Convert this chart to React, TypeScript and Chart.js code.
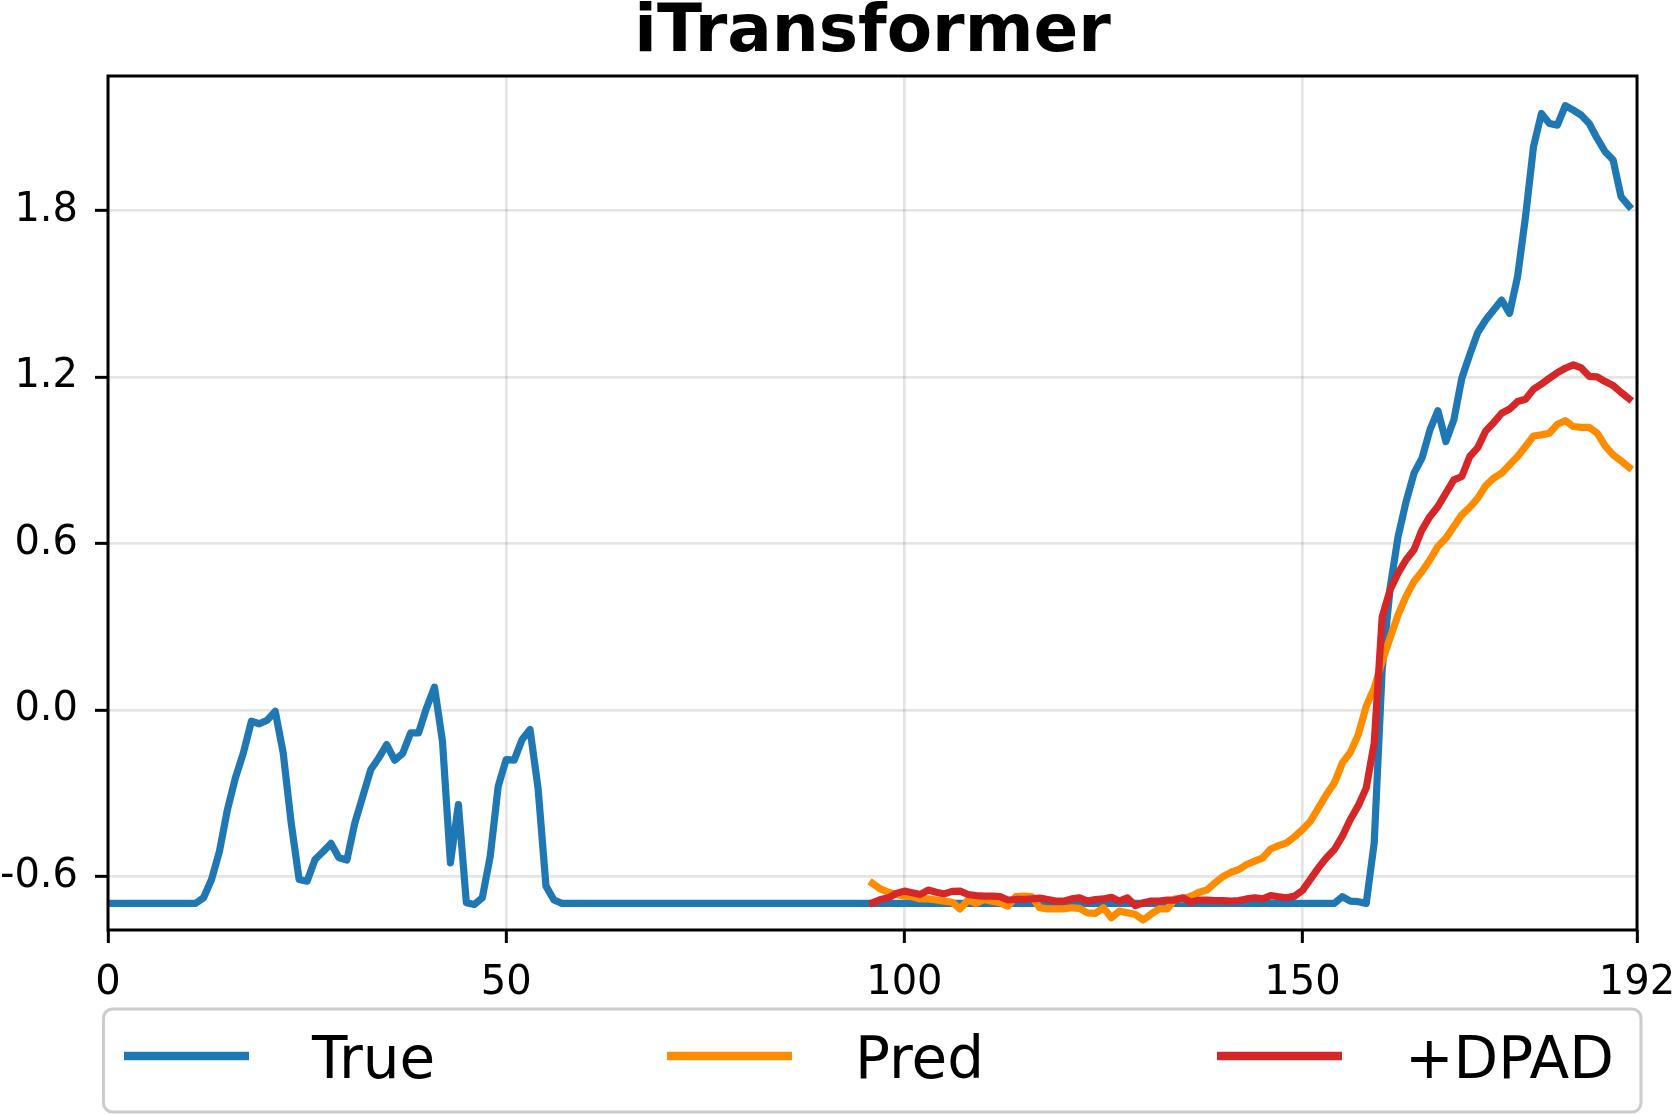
import React, { useEffect, useRef } from 'react';
import { Chart, registerables } from 'chart.js';

Chart.register(...registerables);

const chartTitle = 'iTransformer';
const seriesNames = ['True', 'Pred', '+DPAD'];
const seriesColors = ['#1f77b4', '#ff8c00', '#d62728'];
const xTickValues = [0, 50, 100, 150, 192];
const xTickLabels = ['0', '50', '100', '150', '192'];
const yTickValues = [-0.6, 0, 0.6, 1.2, 1.8];
const yTickLabels = ['-0.6', '0.0', '0.6', '1.2', '1.8'];
const xMin = 0;
const xMax = 192;
const yMin = -0.793;
const yMax = 2.284;
const predStart = 96;

const trueValues = [
  -0.697, -0.697, -0.697, -0.697, -0.697, -0.697, -0.697, -0.697, -0.697, -0.697,
  -0.697, -0.697, -0.677, -0.611, -0.509, -0.359, -0.245, -0.155, -0.041, -0.050,
  -0.037, -0.005, -0.155, -0.407, -0.611, -0.617, -0.539, -0.511, -0.481, -0.533,
  -0.541, -0.407, -0.311, -0.215, -0.173, -0.125, -0.181, -0.157, -0.083, -0.083,
  0.007, 0.082, -0.113, -0.551, -0.341, -0.695, -0.701, -0.677, -0.527, -0.275,
  -0.179, -0.181, -0.107, -0.071, -0.281, -0.635, -0.685, -0.697, -0.697, -0.697,
  -0.697, -0.697, -0.697, -0.697, -0.697, -0.697, -0.697, -0.697, -0.697, -0.697,
  -0.697, -0.697, -0.697, -0.697, -0.697, -0.697, -0.697, -0.697, -0.697, -0.697,
  -0.697, -0.697, -0.697, -0.697, -0.697, -0.697, -0.697, -0.697, -0.697, -0.697,
  -0.697, -0.697, -0.697, -0.697, -0.697, -0.697, -0.697, -0.697, -0.697, -0.697,
  -0.697, -0.697, -0.697, -0.697, -0.697, -0.697, -0.697, -0.697, -0.697, -0.697,
  -0.697, -0.697, -0.697, -0.697, -0.697, -0.697, -0.697, -0.697, -0.697, -0.697,
  -0.697, -0.697, -0.697, -0.697, -0.697, -0.697, -0.697, -0.697, -0.697, -0.697,
  -0.697, -0.697, -0.697, -0.697, -0.697, -0.697, -0.697, -0.697, -0.697, -0.697,
  -0.697, -0.697, -0.697, -0.697, -0.697, -0.697, -0.697, -0.697, -0.697, -0.697,
  -0.697, -0.697, -0.697, -0.697, -0.697, -0.673, -0.689, -0.691, -0.697, -0.479,
  0.145, 0.44, 0.625, 0.75, 0.853, 0.907, 1.009, 1.078, 0.967, 1.045,
  1.195, 1.28, 1.36, 1.405, 1.441, 1.477, 1.429, 1.561, 1.777, 2.029,
  2.149, 2.113, 2.107, 2.177, 2.161, 2.143, 2.113, 2.059, 2.011, 1.981,
  1.849, 1.815,
];

const predValues = [
  -0.625, -0.645, -0.657, -0.665, -0.671, -0.673, -0.681, -0.681, -0.685, -0.689,
  -0.693, -0.717, -0.685, -0.697, -0.683, -0.689, -0.695, -0.707, -0.673, -0.671,
  -0.673, -0.713, -0.717, -0.717, -0.717, -0.713, -0.715, -0.731, -0.733, -0.713,
  -0.749, -0.725, -0.731, -0.737, -0.757, -0.735, -0.717, -0.717, -0.681, -0.681,
  -0.671, -0.657, -0.649, -0.623, -0.601, -0.585, -0.575, -0.557, -0.545, -0.533,
  -0.501, -0.489, -0.479, -0.457, -0.431, -0.401, -0.353, -0.305, -0.263, -0.191,
  -0.153, -0.089, 0.013, 0.079, 0.175, 0.26, 0.343, 0.409, 0.463, 0.499,
  0.541, 0.589, 0.619, 0.661, 0.703, 0.73, 0.763, 0.808, 0.835, 0.853,
  0.883, 0.913, 0.949, 0.987, 0.991, 0.997, 1.029, 1.042, 1.021, 1.018,
  1.018, 0.997, 0.951, 0.919, 0.897, 0.874,
];

const dpadValues = [
  -0.695, -0.683, -0.677, -0.661, -0.653, -0.659, -0.665, -0.649, -0.657, -0.663,
  -0.654, -0.653, -0.665, -0.669, -0.671, -0.671, -0.673, -0.685, -0.683, -0.683,
  -0.681, -0.678, -0.683, -0.689, -0.689, -0.681, -0.677, -0.689, -0.683, -0.681,
  -0.675, -0.689, -0.677, -0.705, -0.695, -0.689, -0.689, -0.685, -0.685, -0.677,
  -0.693, -0.685, -0.685, -0.687, -0.687, -0.689, -0.687, -0.681, -0.677, -0.681,
  -0.669, -0.673, -0.677, -0.671, -0.650, -0.610, -0.569, -0.533, -0.503, -0.455,
  -0.395, -0.345, -0.281, -0.12, 0.335, 0.433, 0.493, 0.541, 0.577, 0.649,
  0.697, 0.733, 0.781, 0.829, 0.841, 0.913, 0.945, 1.005, 1.035, 1.069,
  1.084, 1.111, 1.119, 1.155, 1.174, 1.195, 1.215, 1.231, 1.243, 1.232,
  1.202, 1.200, 1.183, 1.169, 1.144, 1.121,
];

const FONT = '"DejaVu Sans", "Noto Sans", sans-serif';

export default function App() {
  const ref = useRef<HTMLCanvasElement>(null);

  useEffect(() => {
    const canvas = ref.current;
    if (!canvas) return;

    const spinesPlugin = {
      id: 'spines',
      afterDatasetsDraw(chart: any) {
        const { ctx, chartArea: a } = chart;
        ctx.save();
        ctx.strokeStyle = '#000';
        ctx.lineWidth = 3;
        ctx.strokeRect(a.left, a.top, a.right - a.left, a.bottom - a.top);
        ctx.restore();
      },
    };

    const decorPlugin = {
      id: 'decor',
      afterDraw(chart: any) {
        const { ctx, chartArea: a } = chart;
        ctx.save();
        // title
        ctx.fillStyle = '#000';
        ctx.font = `bold 66px ${FONT}`;
        ctx.textAlign = 'center';
        ctx.textBaseline = 'alphabetic';
        ctx.fillText(chartTitle, (a.left + a.right) / 2, 51);

        // legend box
        const boxL = a.left - 4.5;
        const boxR = a.right + 4;
        const boxT = a.bottom + 79;
        const boxB = a.bottom + 182;
        ctx.beginPath();
        (ctx as any).roundRect(boxL, boxT, boxR - boxL, boxB - boxT, 9);
        ctx.fillStyle = 'rgba(255,255,255,0.8)';
        ctx.fill();
        ctx.strokeStyle = '#cccccc';
        ctx.lineWidth = 3;
        ctx.stroke();

        const starts = [20.5, 563.5, 1113.5];
        const lineY = a.bottom + 126;
        ctx.font = `58px ${FONT}`;
        ctx.textAlign = 'left';
        ctx.textBaseline = 'alphabetic';
        seriesNames.forEach((name, i) => {
          const sx = boxL + starts[i];
          ctx.beginPath();
          ctx.moveTo(sx, lineY);
          ctx.lineTo(sx + 125, lineY);
          ctx.strokeStyle = seriesColors[i];
          ctx.lineWidth = 8.5;
          ctx.lineCap = 'butt';
          ctx.stroke();
          ctx.fillStyle = '#000';
          ctx.fillText(name, sx + 188, a.bottom + 148);
        });
        ctx.restore();
      },
    };

    const gridOpts = {
      color: 'rgba(0,0,0,0.1)',
      lineWidth: 2.7,
      drawTicks: true,
      tickLength: 13,
      tickColor: '#000',
      tickWidth: 3,
    };

    const lineStyle = (i: number, order: number) => ({
      borderColor: seriesColors[i],
      backgroundColor: seriesColors[i],
      borderWidth: 7.2,
      pointRadius: 0,
      pointHoverRadius: 0,
      fill: false,
      tension: 0,
      borderJoinStyle: 'round' as const,
      borderCapStyle: 'square' as const,
      order,
    });

    const chart = new Chart(canvas, {
      type: 'line',
      data: {
        datasets: [
          {
            label: seriesNames[0],
            data: trueValues.map((v, i) => ({ x: i, y: v })),
            ...lineStyle(0, 3),
          },
          {
            label: seriesNames[1],
            data: predValues.map((v, i) => ({ x: predStart + i, y: v })),
            ...lineStyle(1, 2),
          },
          {
            label: seriesNames[2],
            data: dpadValues.map((v, i) => ({ x: predStart + i, y: v })),
            ...lineStyle(2, 1),
          },
        ],
      },
      options: {
        responsive: false,
        animation: false,
        devicePixelRatio: 1,
        events: [],
        layout: { padding: { left: 0, right: 36, top: 76, bottom: 0 } },
        plugins: {
          legend: { display: false },
          title: { display: false },
          tooltip: { enabled: false },
        },
        scales: {
          x: {
            type: 'linear',
            min: xMin,
            max: xMax,
            afterBuildTicks: (s: any) => {
              s.ticks = xTickValues.map((v) => ({ value: v }));
            },
            afterFit: (s: any) => {
              s.height = 185;
              s.paddingLeft = 0;
              s.paddingRight = 0;
            },
            grid: gridOpts,
            border: { display: false },
            ticks: {
              font: { family: FONT, size: 40 },
              color: '#000',
              padding: 17,
              maxRotation: 0,
              autoSkip: false,
              callback: (_v: any, i: number) => xTickLabels[i],
            },
          },
          y: {
            type: 'linear',
            min: yMin,
            max: yMax,
            afterBuildTicks: (s: any) => {
              s.ticks = yTickValues.map((v) => ({ value: v }));
            },
            afterFit: (s: any) => {
              s.width = 108;
              s.paddingTop = 0;
              s.paddingBottom = 0;
            },
            grid: gridOpts,
            border: { display: false },
            ticks: {
              font: { family: FONT, size: 40 },
              color: '#000',
              padding: 17,
              autoSkip: false,
              callback: (_v: any, i: number) => yTickLabels[i],
            },
          },
        },
      } as any,
      plugins: [spinesPlugin, decorPlugin],
    });

    return () => chart.destroy();
  }, []);

  return (
    <div style={{ position: 'fixed', left: 0, top: 0, width: 1673, height: 1115, background: '#fff' }}>
      <canvas ref={ref} width={1673} height={1115} style={{ display: 'block', width: 1673, height: 1115 }} />
    </div>
  );
}
